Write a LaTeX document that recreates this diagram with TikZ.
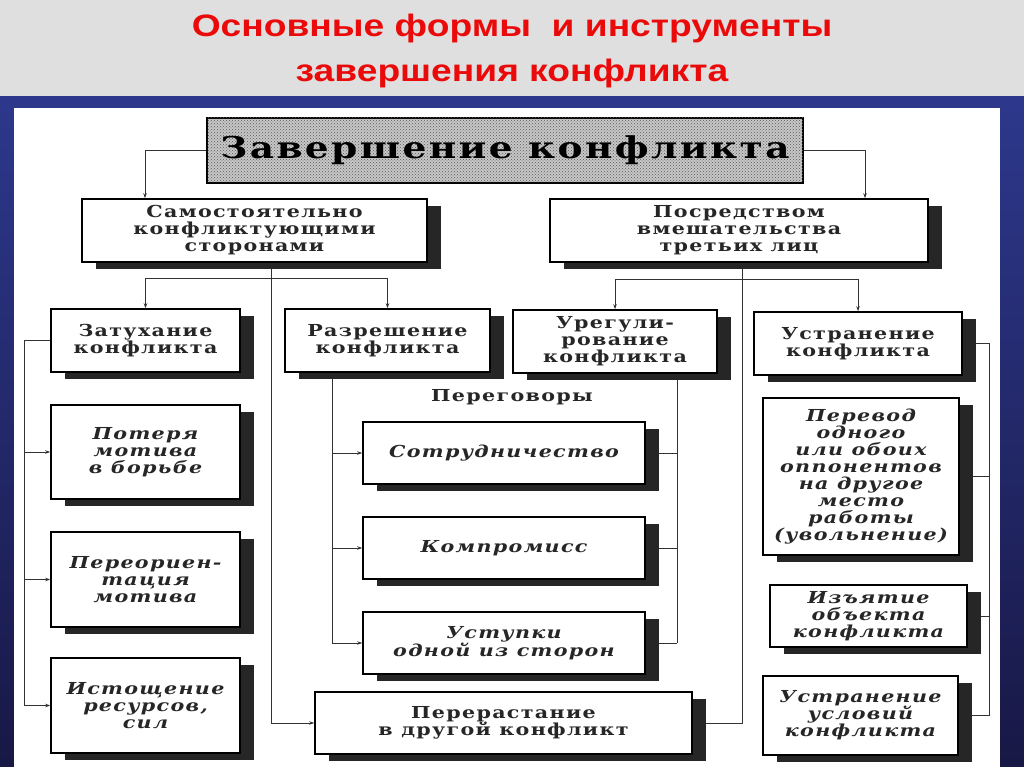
\documentclass[tikz,border=0pt]{standalone}
\usepackage{fontspec}
\usetikzlibrary{shadows,patterns,arrows.meta}
\newfontfamily\dfont[FakeStretch=1.25,LetterSpace=8]{DejaVu Serif}
\newfontfamily\tfont[FakeStretch=1.2]{Liberation Sans}
\definecolor{titlered}{RGB}{235,10,10}
\definecolor{hdrgray}{RGB}{223,223,223}
\definecolor{bandtop}{RGB}{45,56,140}
\definecolor{bandbot}{RGB}{24,24,70}
\pgfdeclarelayer{bg}
\pgfdeclarelayer{lines}
\pgfsetlayers{bg,lines,main}
\begin{document}
\begin{tikzpicture}[x=1pt,y=-1pt,
  box/.style={draw=black, line width=1.6pt, fill=white, align=center, inner sep=1pt,
    font=\dfont\bfseries\fontsize{16.5}{17}\selectfont, text=black!85,
    drop shadow={shadow xshift=14pt, shadow yshift=-7pt, fill=black!85, opacity=1}},
  ibox/.style={box, font=\dfont\bfseries\itshape\fontsize{16.5}{17}\selectfont},
  topbox/.style={draw=black, line width=2.2pt, fill=black!22,
    postaction={pattern=crosshatch dots, pattern color=black!65},
    font=\dfont\bfseries\fontsize{30}{34}\selectfont, text=black},
  conn/.style={draw=black!80, line width=0.9pt},
  arr/.style={conn, -{Stealth[length=5pt,width=3.5pt]}},
  lbl/.style={font=\dfont\bfseries\fontsize{16.5}{17}\selectfont, text=black!85},
  ttl/.style={font=\tfont\bfseries\fontsize{31}{40}\selectfont, text=titlered, anchor=base}
]
\useasboundingbox (0,0) rectangle (1024,767);
\begin{pgfonlayer}{bg}
  \fill[hdrgray] (0,0) rectangle (1024,97);
  \shade[top color=bandtop, bottom color=bandbot] (0,97) rectangle (1024,767);
  \fill[white] (14,108) rectangle (1000,767);
\end{pgfonlayer}

\node[ttl] (title1) at (512,37) {Основные формы\ \ и инструменты};
\node[ttl] (title2) at (512,82) {завершения конфликта};

\node[topbox, minimum width=596pt, minimum height=65pt] (top) at (505,150.5) {Завершение конфликта};

\node[box, minimum width=345pt, minimum height=63pt] (samost) at (254.5,230.5) {Самостоятельно\\конфликтующими\\сторонами};
\node[box, minimum width=378pt, minimum height=63pt] (posr) at (739,230.5) {Посредством\\вмешательства\\третьих лиц};

\node[box, minimum width=189pt, minimum height=63pt] (zat) at (145.5,340.5) {Затухание\\конфликта};
\node[box, minimum width=205pt, minimum height=63pt] (razr) at (387.5,340.5) {Разрешение\\конфликта};
\node[box, minimum width=204pt, minimum height=63pt] (ureg) at (615,341.5) {Урегули-\\рование\\конфликта};
\node[box, minimum width=208pt, minimum height=63pt] (ustr) at (858,343.5) {Устранение\\конфликта};

\node[ibox, minimum width=189pt, minimum height=94pt] (pot) at (145.5,452) {Потеря\\мотива\\в борьбе};
\node[ibox, minimum width=189pt, minimum height=95pt] (pere) at (145.5,579.5) {Переориен-\\тация\\мотива};
\node[ibox, minimum width=189pt, minimum height=95pt] (ist) at (145.5,705.5) {Истощение\\ресурсов,\\сил};

\node[lbl] (neg) at (512,397) {Переговоры};
\node[ibox, minimum width=282pt, minimum height=62pt] (sotr) at (504,453) {Сотрудничество};
\node[ibox, minimum width=282pt, minimum height=62pt] (komp) at (504,548) {Компромисс};
\node[ibox, minimum width=282pt, minimum height=62pt] (ust) at (504,643) {Уступки\\одной из сторон};
\node[box, minimum width=377pt, minimum height=62pt] (per) at (503.5,723) {Перерастание\\в другой конфликт};

\node[ibox, minimum width=196pt, minimum height=157pt] (perev) at (861,476.5) {Перевод\\одного\\или обоих\\оппонентов\\на другое\\место\\работы\\(увольнение)};
\node[ibox, minimum width=197pt, minimum height=62pt] (izy) at (868.5,616) {Изъятие\\объекта\\конфликта};
\node[ibox, minimum width=195pt, minimum height=79pt] (usl) at (860.5,715.5) {Устранение\\условий\\конфликта};

\coordinate (c1) at (145,150);
\coordinate (c2) at (865,150);
\coordinate (j1) at (271,278);
\coordinate (j2) at (742,279);
\coordinate (j3) at (24,340);
\coordinate (j4) at (332,400);
\coordinate (j5) at (677,400);
\coordinate (j6) at (989,400);

\begin{pgfonlayer}{lines}
  \draw[arr] (top.west) -| (samost.north -| c1);
  \draw[arr] (top.east) -| (posr.north -| c2);
  \draw[conn] (samost.south -| j1) -- (j1);
  \draw[arr] (j1) -| (zat.north);
  \draw[arr] (j1) -| (razr.north);
  \draw[arr] (samost.south -| j1) |- (per.west);
  \draw[arr] (j2) -| (ureg.north);
  \draw[arr] (j2) -| (ustr.north);
  \draw[conn] (posr.south -| j2) |- (per.east);
  \draw[conn] (zat.west) -- (zat.west -| j3) -- (ist.west -| j3);
  \draw[arr] (pot.west -| j3) -- (pot.west);
  \draw[arr] (pere.west -| j3) -- (pere.west);
  \draw[arr] (ist.west -| j3) -- (ist.west);
  \draw[conn] (razr.south -| j4) -- (ust.west -| j4);
  \draw[arr] (sotr.west -| j4) -- (sotr.west);
  \draw[arr] (komp.west -| j4) -- (komp.west);
  \draw[arr] (ust.west -| j4) -- (ust.west);
  \draw[conn] (ureg.south -| j5) -- (ust.east -| j5);
  \draw[conn] (sotr.east) -- (sotr.east -| j5);
  \draw[conn] (komp.east) -- (komp.east -| j5);
  \draw[conn] (ust.east) -- (ust.east -| j5);
  \draw[conn] (ustr.east) -- (ustr.east -| j6) -- (usl.east -| j6);
  \draw[conn] (perev.east) -- (perev.east -| j6);
  \draw[conn] (izy.east) -- (izy.east -| j6);
  \draw[conn] (usl.east) -- (usl.east -| j6);
\end{pgfonlayer}
\end{tikzpicture}
\end{document}
